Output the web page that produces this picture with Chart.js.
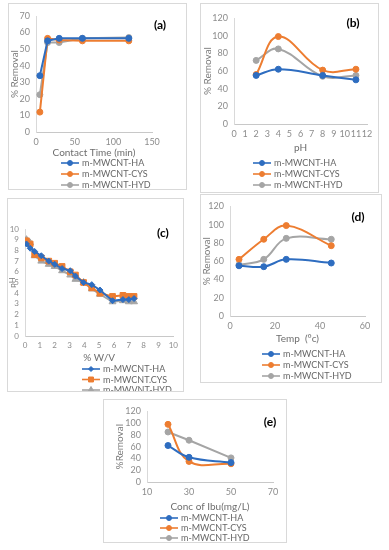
<!DOCTYPE html>
<html>
<head>
<meta charset="utf-8">
<script src="https://cdn.jsdelivr.net/npm/chart.js@4.4.1/dist/chart.umd.min.js"></script>
<style>
body { margin: 0; background: #fff; width: 389px; height: 550px; position: relative; overflow: hidden; }
.panel { position: absolute; border: 1px solid #d9d9d9; box-sizing: border-box; background: #fff; }
.panel canvas { position: absolute; left: 0; top: 0; }
</style>
</head>
<body>
<div class="panel" id="pa"><canvas id="ca"></canvas></div>
<div class="panel" id="pb"><canvas id="cb"></canvas></div>
<div class="panel" id="pc"><canvas id="cc"></canvas></div>
<div class="panel" id="pd"><canvas id="cd"></canvas></div>
<div class="panel" id="pe"><canvas id="ce"></canvas></div>
<script>
// (a) contact time
var timeA = [5, 15, 30, 60, 120];
var haA = [34, 55, 56.5, 56.5, 56.5];
var cysA = [12, 56.5, 55.5, 55, 55];
var hydA = [22.5, 54, 54, 56.5, 57];

// (b) pH
var phB = [2, 4, 8, 11];
var haB = [55, 62, 55, 50];
var cysB = [56, 99, 61, 62];
var hydB = [72, 85, 54, 55];

// (c) pH vs % W/V
var wvC = [0.1, 0.35, 0.65, 1.1, 1.6, 2.0, 2.5, 3.05, 3.4, 3.95, 4.5, 5.05, 5.9, 6.6, 7.0, 7.35];
var haC = [8.6, 8.2, 7.9, 7.5, 7.0, 6.7, 6.3, 6.1, 5.6, 5.0, 4.8, 4.3, 3.3, 3.4, 3.4, 3.5];
var cysC = [8.9, 8.6, 7.6, 7.3, 7.0, 6.8, 6.5, 6.0, 5.7, 5.0, 4.5, 4.0, 3.7, 3.8, 3.7, 3.7];
var hydC = [9.0, 8.7, 7.5, 7.0, 6.7, 6.5, 6.1, 5.7, 5.3, 5.0, 4.4, 3.9, 3.2, 3.3, 3.2, 3.2];

// (d) temperature
var tempD = [4, 15, 25, 45];
var haD = [55, 54, 62, 58];
var cysD = [62, 84, 99, 77];
var hydD = [56, 62, 85, 84];

// (e) concentration of ibuprofen
var concE = [20, 30, 50];
var haE = [62, 42, 33];
var cysE = [98, 35, 31];
var hydE = [85, 71, 41];

var namesStd = ['m-MWCNT-HA', 'm-MWCNT-CYS', 'm-MWCNT-HYD'];
var namesC = ['m-MWCNT-HA', 'm-MWCNT.CYS', 'm-MWVNT-HYD'];

var BLUE = '#2e6dc0', ORANGE = '#ed7d31', GRAY = '#a5a5a5';
var FONT = 'Lato, "Open Sans", sans-serif';

function pts(xs, ys) {
    var out = [];
    for (var i = 0; i < xs.length; i++) {
        out.push({ x: xs[i], y: ys[i] });
    }
    return out;
}

function series(label, color, xs, ys, style, tension, radius) {
    return {
        label: label,
        data: pts(xs, ys),
        borderColor: color,
        backgroundColor: color,
        pointBackgroundColor: color,
        pointBorderColor: color,
        pointStyle: style,
        pointRadius: radius,
        pointBorderWidth: 1,
        borderWidth: 2,
        tension: tension
    };
}

// draws the panel tag and an Excel-like stacked legend
var panelDecor = {
    id: 'panelDecor',
    afterDraw: function (chart) {
        var o = chart.options.plugins.panelDecor;
        var ctx = chart.ctx;
        ctx.save();
        ctx.font = 'bold 12px ' + FONT;
        ctx.fillStyle = '#000';
        ctx.textAlign = 'center';
        ctx.textBaseline = 'middle';
        ctx.fillText(o.tag, o.tagX, o.tagY);

        ctx.font = '9px ' + FONT;
        ctx.textAlign = 'left';
        chart.data.datasets.forEach(function (ds, i) {
            var y = o.legY + i * o.legGap;
            ctx.strokeStyle = ds.borderColor;
            ctx.fillStyle = ds.borderColor;
            ctx.lineWidth = 1.6;
            ctx.beginPath();
            ctx.moveTo(o.legX, y);
            ctx.lineTo(o.legX + 18, y);
            ctx.stroke();
            ctx.lineWidth = 1;
            Chart.helpers.drawPoint(ctx, { pointStyle: ds.pointStyle, radius: ds.pointRadius - 0.5, borderWidth: 1, rotation: 0 }, o.legX + 9, y);
            ctx.fillStyle = '#666';
            ctx.fillText(ds.label, o.legX + 21, y + 0.5);
        });
        ctx.restore();
    }
};

function makePanel(p) {
    var box = document.getElementById(p.box);
    box.style.left = p.rect[0] + 'px';
    box.style.top = p.rect[1] + 'px';
    box.style.width = p.rect[2] + 'px';
    box.style.height = p.rect[3] + 'px';

    var cx = p.rect[0] + 1, cy = p.rect[1] + 1;
    var cw = p.rect[2] - 2, ch = p.rect[3] - 2;
    var canvas = document.getElementById(p.canvas);
    canvas.width = cw;
    canvas.height = ch;

    var yW = p.plot[0] - cx;
    var padTop = p.plot[1] - cy;
    var padRight = cx + cw - p.plot[2];
    var padBottom = cy + ch - p.plot[3] - p.xH;

    new Chart(canvas.getContext('2d'), {
        type: 'line',
        data: { datasets: p.datasets },
        options: {
            responsive: false,
            animation: false,
            layout: { padding: { left: 0, top: padTop, right: padRight, bottom: padBottom } },
            plugins: {
                legend: { display: false },
                tooltip: { enabled: false },
                panelDecor: {
                    tag: p.tag, tagX: p.tagPos[0] - cx, tagY: p.tagPos[1] - cy,
                    legX: p.leg[0] - cx, legY: p.leg[1] - cy, legGap: p.leg[2]
                }
            },
            scales: {
                x: {
                    type: 'linear',
                    min: p.x[0], max: p.x[1],
                    afterFit: function (s) { s.height = p.xH; },
                    grid: { display: true, drawOnChartArea: false, drawTicks: false, color: '#d9d9d9' },
                    border: { color: '#c8c8c8' },
                    ticks: { stepSize: p.x[2], autoSkip: false, maxRotation: 0, padding: 5, color: '#8c8c8c', font: { family: FONT, size: p.tickSize } },
                    title: { display: true, text: p.xTitle, color: '#6e6e6e', padding: 0, font: { family: FONT, size: 10 } }
                },
                y: {
                    type: 'linear',
                    min: p.y[0], max: p.y[1],
                    afterFit: function (s) { s.width = yW; },
                    grid: { display: true, drawOnChartArea: false, drawTicks: false, color: '#d9d9d9' },
                    border: { color: '#d9d9d9' },
                    ticks: { stepSize: p.y[2], autoSkip: false, padding: 6, color: '#8c8c8c', font: { family: FONT, size: p.tickSize } },
                    title: { display: true, text: p.yTitle, color: '#7a7a7a', padding: { top: p.yTitlePad, bottom: 0 }, font: { family: FONT, size: p.yTitleSize } }
                }
            }
        },
        plugins: [panelDecor]
    });
}

makePanel({
    box: 'pa', canvas: 'ca', rect: [8, 3, 179, 187], plot: [36, 16, 152, 132], xH: 27,
    x: [0, 150, 50], y: [0, 70, 10], tickSize: 9,
    xTitle: 'Contact Time (min)', yTitle: '% Removal', yTitlePad: 0, yTitleSize: 10,
    tag: '(a)', tagPos: [160, 25], leg: [61, 163, 11],
    datasets: [
        series(namesStd[0], BLUE, timeA, haA, 'circle', 0, 3),
        series(namesStd[1], ORANGE, timeA, cysA, 'circle', 0, 3),
        series(namesStd[2], GRAY, timeA, hydA, 'circle', 0, 3)
    ]
});

makePanel({
    box: 'pb', canvas: 'cb', rect: [200, 3, 179, 190], plot: [234, 18, 367, 124], xH: 30,
    x: [0, 12, 1], y: [0, 120, 20], tickSize: 9,
    xTitle: 'pH', yTitle: '% Removal', yTitlePad: 1, yTitleSize: 10,
    tag: '(b)', tagPos: [353, 23], leg: [253, 163, 11],
    datasets: [
        series(namesStd[0], BLUE, phB, haB, 'circle', 0.4, 3),
        series(namesStd[1], ORANGE, phB, cysB, 'circle', 0.4, 3),
        series(namesStd[2], GRAY, phB, hydB, 'circle', 0.4, 3)
    ]
});

makePanel({
    box: 'pc', canvas: 'cc', rect: [7, 198, 177, 194], plot: [25, 229, 177, 336], xH: 28,
    x: [0, 10, 1], y: [0, 10, 1], tickSize: 8,
    xTitle: '% W/V', yTitle: 'pH', yTitlePad: 0, yTitleSize: 8,
    tag: '(c)', tagPos: [163, 233], leg: [82, 369, 10.5],
    datasets: [
        series(namesC[0], BLUE, wvC, haC, 'rectRot', 0, 3),
        series(namesC[1], ORANGE, wvC, cysC, 'rect', 0, 4),
        series(namesC[2], GRAY, wvC, hydC, 'triangle', 0, 4)
    ]
});

makePanel({
    box: 'pd', canvas: 'cd', rect: [200, 194, 182, 189], plot: [230, 202, 365, 316], xH: 29,
    x: [0, 60, 20], y: [0, 120, 20], tickSize: 9,
    xTitle: 'Temp  (\u00b0c)', yTitle: '% Removal', yTitlePad: 0, yTitleSize: 10,
    tag: '(d)', tagPos: [358, 217], leg: [262, 354, 11],
    datasets: [
        series(namesStd[0], BLUE, tempD, haD, 'circle', 0.4, 3),
        series(namesStd[1], ORANGE, tempD, cysD, 'circle', 0.4, 3),
        series(namesStd[2], GRAY, tempD, hydD, 'circle', 0.4, 3)
    ]
});

makePanel({
    box: 'pe', canvas: 'ce', rect: [103, 399, 184, 144], plot: [147, 409, 273, 482], xH: 31,
    x: [10, 70, 20], y: [0, 120, 20], tickSize: 9,
    xTitle: 'Conc of Ibu(mg/L)', yTitle: '%Removal', yTitlePad: 10, yTitleSize: 10,
    tag: '(e)', tagPos: [270, 422], leg: [160, 518, 10],
    datasets: [
        series(namesStd[0], BLUE, concE, haE, 'circle', 0.4, 3),
        series(namesStd[1], ORANGE, concE, cysE, 'circle', 0.4, 3),
        series(namesStd[2], GRAY, concE, hydE, 'circle', 0, 3)
    ]
});
</script>
</body>
</html>
